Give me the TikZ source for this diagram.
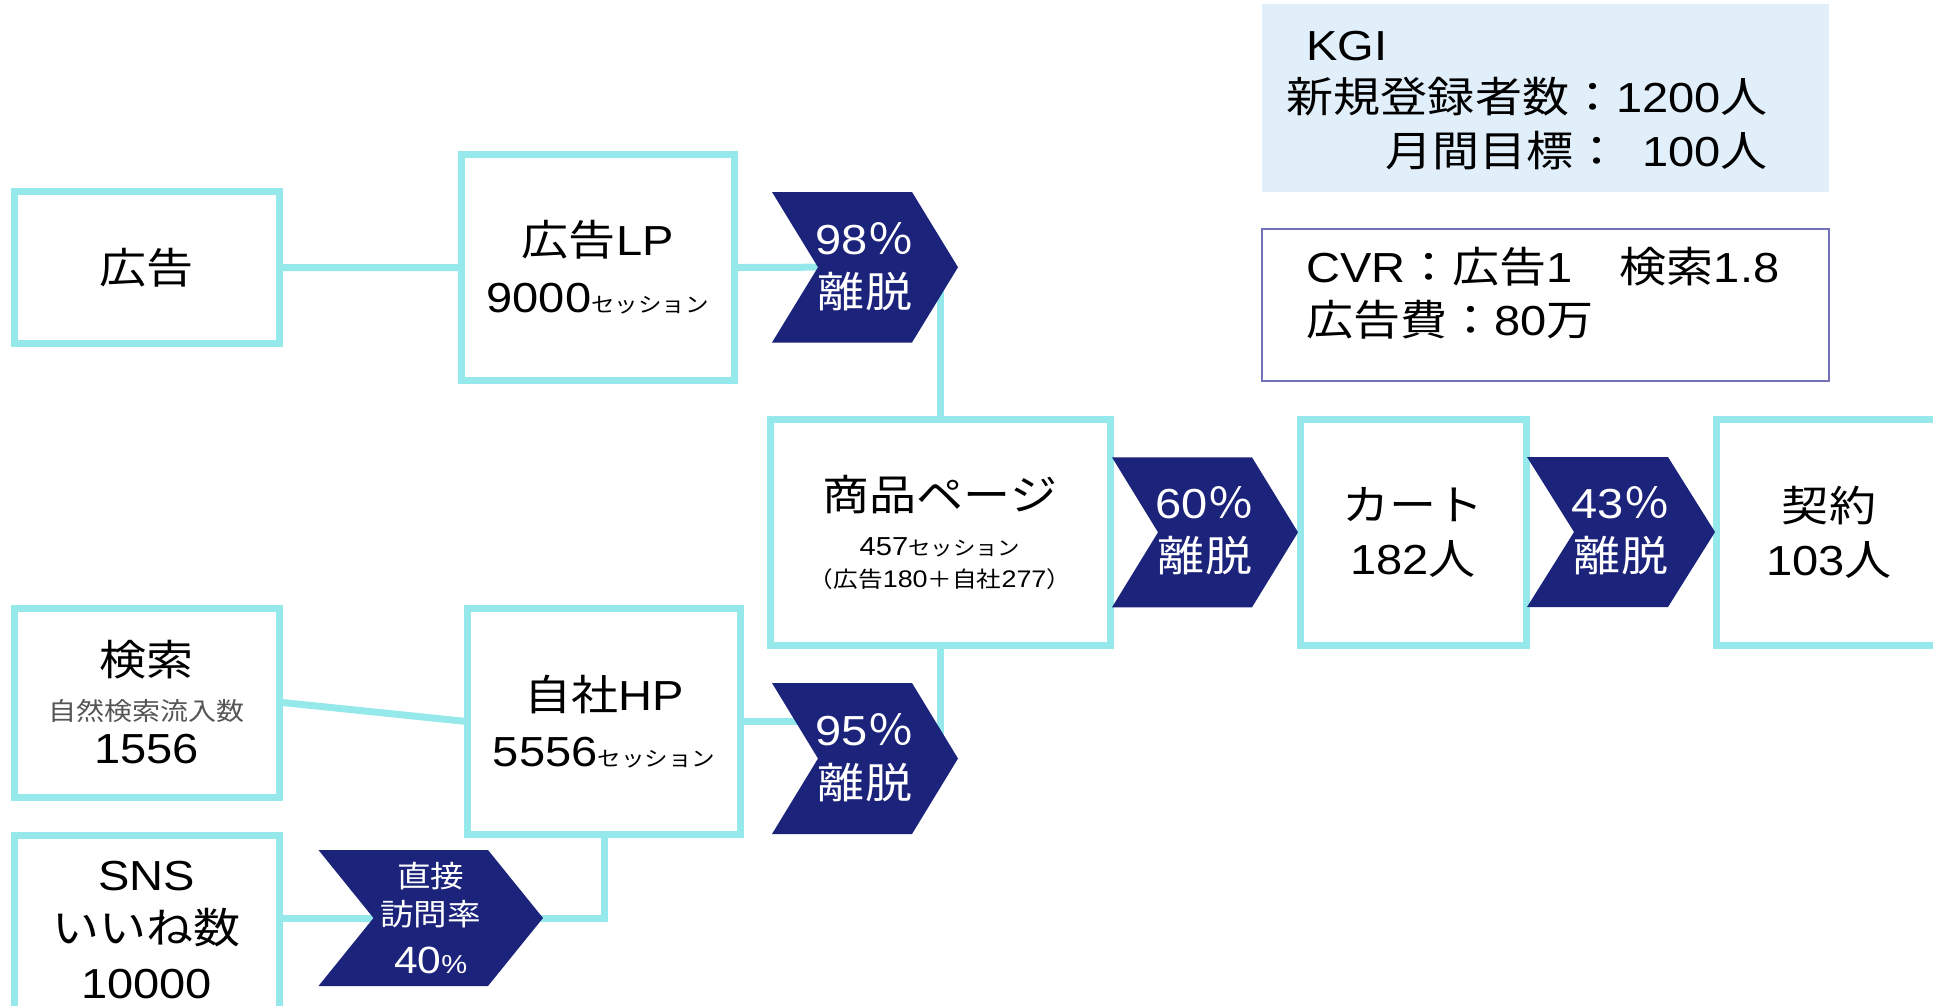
\documentclass[tikz,border=0pt]{standalone}
\usepackage{fontspec}
\setmainfont{Noto Sans CJK JP}[FakeStretch=1.12]
\newfontfamily\latf{Liberation Sans}[FakeStretch=1.12]
\newcommand\mylat[1]{{\latf #1}}
\newcommand\fsz[2]{\fontsize{#1}{#2}\selectfont}
\definecolor{cyanb}{HTML}{96E9EB}
\definecolor{navy}{HTML}{1C237B}
\definecolor{kgifill}{HTML}{E1EFFA}
\definecolor{cvrline}{HTML}{7272B8}
\definecolor{subgray}{HTML}{555555}
\pgfdeclarelayer{bg}
\pgfsetlayers{bg,main}
\begin{document}
\begin{tikzpicture}[x=1pt,y=-1pt,
  box/.style={draw=cyanb, line width=7pt, fill=white, inner sep=0pt, align=center, text=black, font=\fsz{42}{54}},
  conn/.style={draw=cyanb, line width=7pt},
  chevtext/.style={text=white, align=center, inner sep=0pt, font=\fsz{42}{53}},
  txt/.style={inner sep=0pt, text=black, font=\fsz{42}{52}},
  pics/chev/.style args={#1/#2/#3}{code={
    \fill[navy] (-#1,-#2) -- (#1-#3,-#2) -- (#1,0) -- (#1-#3,#2) -- (-#1,#2) -- (-#1+#3,0) -- cycle;}},
]
\useasboundingbox (0,0) rectangle (1933,1005);
\clip (0,0) rectangle (1933,1005);

% info boxes
\node[fill=kgifill, minimum width=567, minimum height=188, inner sep=0pt] (kgi) at (1545.5,98) {};
\node[txt, anchor=west] (kgit) at (1306,46) {\mylat{KGI}};
\node[txt, anchor=east] (kgi1) at (1768,97) {新規登録者数：\mylat{1200}人};
\node[txt, anchor=east] (kgi2) at (1768,151) {月間目標：\hspace{22pt}\mylat{100}人};

\node[draw=cvrline, line width=2pt, fill=white, minimum width=567, minimum height=152, inner sep=0pt] (cvr) at (1545.5,305) {};
\node[txt, anchor=west] (cvr1) at (1306,267) {\mylat{CVR}：広告\mylat{1}　検索\mylat{1.8}};
\node[txt, anchor=west] (cvr2) at (1306,320) {広告費：\mylat{80}万};

% boxes
\node[box, minimum width=264.5, minimum height=151.4] (ad) at (146.75,267.6) {広告};
\node[box, minimum width=272.5, minimum height=226] (adlp) at (597.75,267.5)
  {広告\mylat{LP}\\[3pt]\mylat{9000}{\fsz{21}{21}セッション}};
\node[box, minimum width=340, minimum height=226.5] (prod) at (940,532.25)
  {商品ページ\\[-9pt]{\fsz{26}{26}\mylat{457}}{\fsz{20}{20}セッション}\\[-22pt]{\fsz{22}{22}（広告{\fsz{24}{24}\mylat{180}}＋自社{\fsz{24}{24}\mylat{277}}）}};
\node[box, minimum width=226, minimum height=226.5] (cart) at (1413,532.25) {カート\\\mylat{182}人};
\node[box, minimum width=226, minimum height=226.5] (contract) at (1829,532.25) {契約\\\mylat{103}人};
\node[box, minimum width=264.5, minimum height=189] (search) at (146.75,702.5)
  {検索\\[-9pt]{\fsz{25}{25}\color{subgray}自然検索流入数}\\[-11pt]\mylat{1556}};
\node[box, minimum width=272.6, minimum height=226.5] (hp) at (604,721.25)
  {自社\mylat{HP}\\[2pt]\mylat{5556}{\fsz{21}{21}セッション}};
\node[box, minimum width=264.5, minimum height=190] (sns) at (146.75,930)
  {\mylat{SNS}\\[-1pt]いいね数\\[1pt]\mylat{10000}};

% chevrons
\pic at (865,267.25) {chev={93/75.25/46}};
\node[chevtext] (c98) at (865,267) {\mylat{98}％\\離脱};
\pic at (865,758.5) {chev={93/75.5/46}};
\node[chevtext] (c95) at (865,758) {\mylat{95}％\\離脱};
\pic at (1205,532.3) {chev={93/75/46}};
\node[chevtext] (c60) at (1205,531) {\mylat{60}％\\離脱};
\pic at (1621,532) {chev={94/75/47}};
\node[chevtext] (c43) at (1621,531) {\mylat{43}％\\離脱};
\pic at (430.75,918) {chev={112.25/68/55}};
\node[chevtext, font=\fsz{30}{38}] (c40) at (430.75,918) {直接\\訪問率\\[10pt]{\fsz{38}{38}\mylat{40}}{\fsz{26}{26}\mylat{\%}}};

% connectors
\begin{pgfonlayer}{bg}
\draw[conn] (ad.east) -- (adlp.west);
\draw[conn] (adlp.east) -- (c98.center);
\draw[conn] (prod.north) -- (prod.north |- c98.center);
\draw[conn] (search.east) -- (hp.west);
\draw[conn] (hp.east) -- (hp.east -| c95.center);
\draw[conn] (prod.south) -- (prod.south |- c95.center);
\draw[conn] (sns.east |- c40.center) -- (c40.center);
\draw[conn] (c40.center) -| (hp.south);
\end{pgfonlayer}
\end{tikzpicture}
\end{document}
